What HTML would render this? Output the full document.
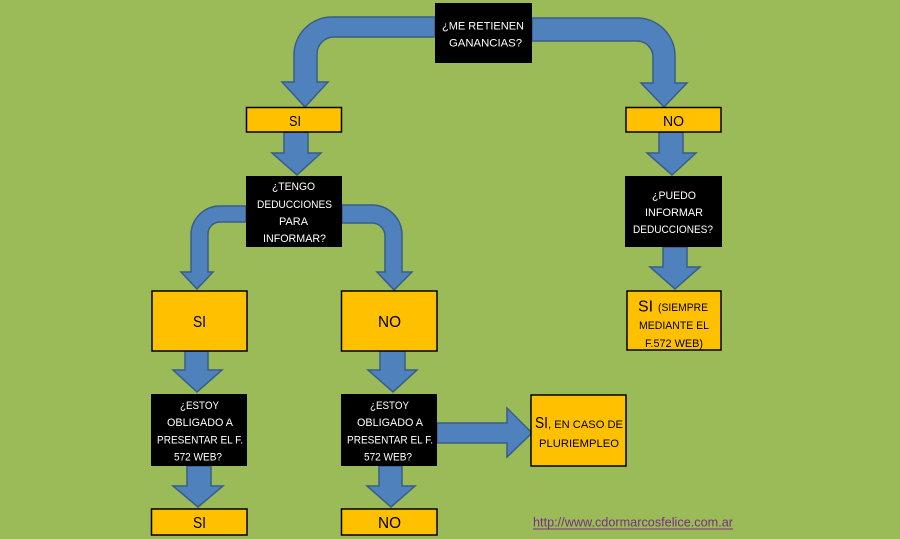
<!DOCTYPE html>
<html><head><meta charset="utf-8"><style>
html,body{margin:0;padding:0;background:#9BBB59;}
svg{display:block;}
text{font-family:"Liberation Sans",Arial,sans-serif;}
.w{fill:#fff;font-size:11px;}
.k{fill:#000;}
.ar{fill:#4F81BD;stroke:#385D8A;stroke-width:1.5;stroke-linejoin:miter;}
.y{fill:#FFC000;stroke:#000;stroke-width:1.5;}
.b{fill:#000;}
</style></head><body>
<svg width="900" height="539" viewBox="0 0 900 539" xmlns="http://www.w3.org/2000/svg">
<rect width="900" height="539" fill="#9BBB59"/>

<!-- curved arrows -->
<path class="ar" d="M435,17 L332,17 A38,38 0 0 0 294,55 L294,82 L282,82 L305,107 L328,82 L317,82 L317,54 A17,17 0 0 1 334,37 L435,37 Z"/>
<path class="ar" d="M532,18 L637,18 A38,38 0 0 1 675,56 L675,83 L687,83 L664,107 L641,83 L653,83 L653,57 A16,16 0 0 0 637,41 L532,41 Z"/>
<path class="ar" d="M246,206 L220,206 A29,29 0 0 0 191,235 L191,272 L181,272 L197,289 L213,272 L208,272 L208,234 A12,12 0 0 1 220,222 L246,222 Z"/>
<path class="ar" d="M342,205 L372,205 A30,30 0 0 1 402,235 L402,272 L412,272 L394,290 L377,272 L385,272 L385,236 A13,13 0 0 0 372,223 L342,223 Z"/>

<!-- straight arrows -->
<path class="ar" d="M284,132 L308,132 L308,153 L321,153 L297,175 L272,153 L284,153 Z"/>
<path class="ar" d="M659,132 L683,132 L683,153 L696,153 L672,175 L647,153 L659,153 Z"/>
<path class="ar" d="M663,247 L687,247 L687,267 L700,267 L675,289 L650,267 L663,267 Z"/>
<path class="ar" d="M185,351 L208,351 L208,370 L222,370 L197,392 L173,370 L185,370 Z"/>
<path class="ar" d="M380,351 L405,351 L405,370 L417,370 L393,392 L368,370 L380,370 Z"/>
<path class="ar" d="M187,466 L211,466 L211,486 L223,486 L198,507 L173,486 L187,486 Z"/>
<path class="ar" d="M379,466 L402,466 L402,486 L415,486 L391,507 L367,486 L379,486 Z"/>
<path class="ar" d="M437,423 L507,423 L507,408 L532,433 L507,457 L507,443 L437,443 Z"/>

<!-- boxes -->
<rect class="b" x="435" y="3" width="97" height="60"/>
<rect class="y" x="246.5" y="107.5" width="95" height="24.5"/>
<rect class="y" x="626" y="107.5" width="95" height="24.5"/>
<rect class="b" x="246" y="176" width="96" height="71"/>
<rect class="b" x="625" y="176" width="97" height="71"/>
<rect class="y" x="152" y="291" width="95" height="60"/>
<rect class="y" x="341.5" y="291" width="95.5" height="60"/>
<rect class="y" x="627" y="291" width="94" height="59"/>
<rect class="b" x="151" y="394" width="96" height="72"/>
<rect class="b" x="341" y="394" width="96" height="72"/>
<rect class="y" x="531" y="395" width="95" height="71"/>
<rect class="y" x="151.5" y="509" width="95.5" height="26"/>
<rect class="y" x="341.5" y="509" width="95.5" height="26"/>

<!-- text: top -->
<text class="w" x="442" y="29.5" textLength="82" lengthAdjust="spacingAndGlyphs">¿ME RETIENEN</text>
<text class="w" x="449" y="46.5" textLength="73" lengthAdjust="spacingAndGlyphs">GANANCIAS?</text>

<text class="k" x="289" y="126" font-size="15" textLength="12" lengthAdjust="spacingAndGlyphs">SI</text>
<text class="k" x="663" y="126" font-size="15" textLength="21" lengthAdjust="spacingAndGlyphs">NO</text>

<!-- TENGO -->
<text class="w" x="272" y="190" textLength="43" lengthAdjust="spacingAndGlyphs">¿TENGO</text>
<text class="w" x="257" y="208" textLength="75" lengthAdjust="spacingAndGlyphs">DEDUCCIONES</text>
<text class="w" x="279" y="225" textLength="29" lengthAdjust="spacingAndGlyphs">PARA</text>
<text class="w" x="263" y="242" textLength="63" lengthAdjust="spacingAndGlyphs">INFORMAR?</text>

<!-- PUEDO -->
<text class="w" x="652" y="199" textLength="44" lengthAdjust="spacingAndGlyphs">¿PUEDO</text>
<text class="w" x="645" y="216" textLength="58" lengthAdjust="spacingAndGlyphs">INFORMAR</text>
<text class="w" x="633" y="233" textLength="80" lengthAdjust="spacingAndGlyphs">DEDUCCIONES?</text>

<!-- big SI / NO -->
<text class="k" x="193" y="327" font-size="16" textLength="13" lengthAdjust="spacingAndGlyphs">SI</text>
<text class="k" x="378" y="327" font-size="16" textLength="23" lengthAdjust="spacingAndGlyphs">NO</text>

<!-- SIEMPRE -->
<text class="k" x="638" y="311.5" font-size="16" textLength="15" lengthAdjust="spacingAndGlyphs">SI</text>
<text class="k" x="658" y="311" font-size="11" textLength="50" lengthAdjust="spacingAndGlyphs">(SIEMPRE</text>
<text class="k" x="639" y="329" font-size="11" textLength="70" lengthAdjust="spacingAndGlyphs">MEDIANTE EL</text>
<text class="k" x="645" y="347" font-size="11" textLength="58" lengthAdjust="spacingAndGlyphs">F.572 WEB)</text>

<!-- ESTOY left -->
<text class="w" x="180" y="409" textLength="39" lengthAdjust="spacingAndGlyphs">¿ESTOY</text>
<text class="w" x="167" y="426" textLength="66" lengthAdjust="spacingAndGlyphs">OBLIGADO A</text>
<text class="w" x="157" y="443.5" textLength="86" lengthAdjust="spacingAndGlyphs">PRESENTAR EL F.</text>
<text class="w" x="174" y="460.5" textLength="48" lengthAdjust="spacingAndGlyphs">572 WEB?</text>

<!-- ESTOY mid -->
<text class="w" x="370" y="409" textLength="39" lengthAdjust="spacingAndGlyphs">¿ESTOY</text>
<text class="w" x="357" y="426" textLength="66" lengthAdjust="spacingAndGlyphs">OBLIGADO A</text>
<text class="w" x="347" y="443.5" textLength="86" lengthAdjust="spacingAndGlyphs">PRESENTAR EL F.</text>
<text class="w" x="364" y="460.5" textLength="48" lengthAdjust="spacingAndGlyphs">572 WEB?</text>

<!-- SI, EN CASO DE -->
<text class="k" x="535" y="428" font-size="16" textLength="13" lengthAdjust="spacingAndGlyphs">SI</text>
<text class="k" x="548" y="428" font-size="11" textLength="75" lengthAdjust="spacingAndGlyphs">, EN CASO DE</text>
<text class="k" x="539" y="447" font-size="11" textLength="80" lengthAdjust="spacingAndGlyphs">PLURIEMPLEO</text>

<!-- bottom SI / NO -->
<text class="k" x="193" y="528" font-size="16" textLength="13" lengthAdjust="spacingAndGlyphs">SI</text>
<text class="k" x="378" y="528" font-size="16" textLength="23" lengthAdjust="spacingAndGlyphs">NO</text>

<!-- link -->
<text x="533" y="526.5" font-size="12.5" fill="#7B2C82" textLength="200" lengthAdjust="spacingAndGlyphs">http://www.cdormarcosfelice.com.ar</text>
<rect x="533" y="528.5" width="200" height="1" fill="#7B2C82"/>
</svg>
</body></html>
